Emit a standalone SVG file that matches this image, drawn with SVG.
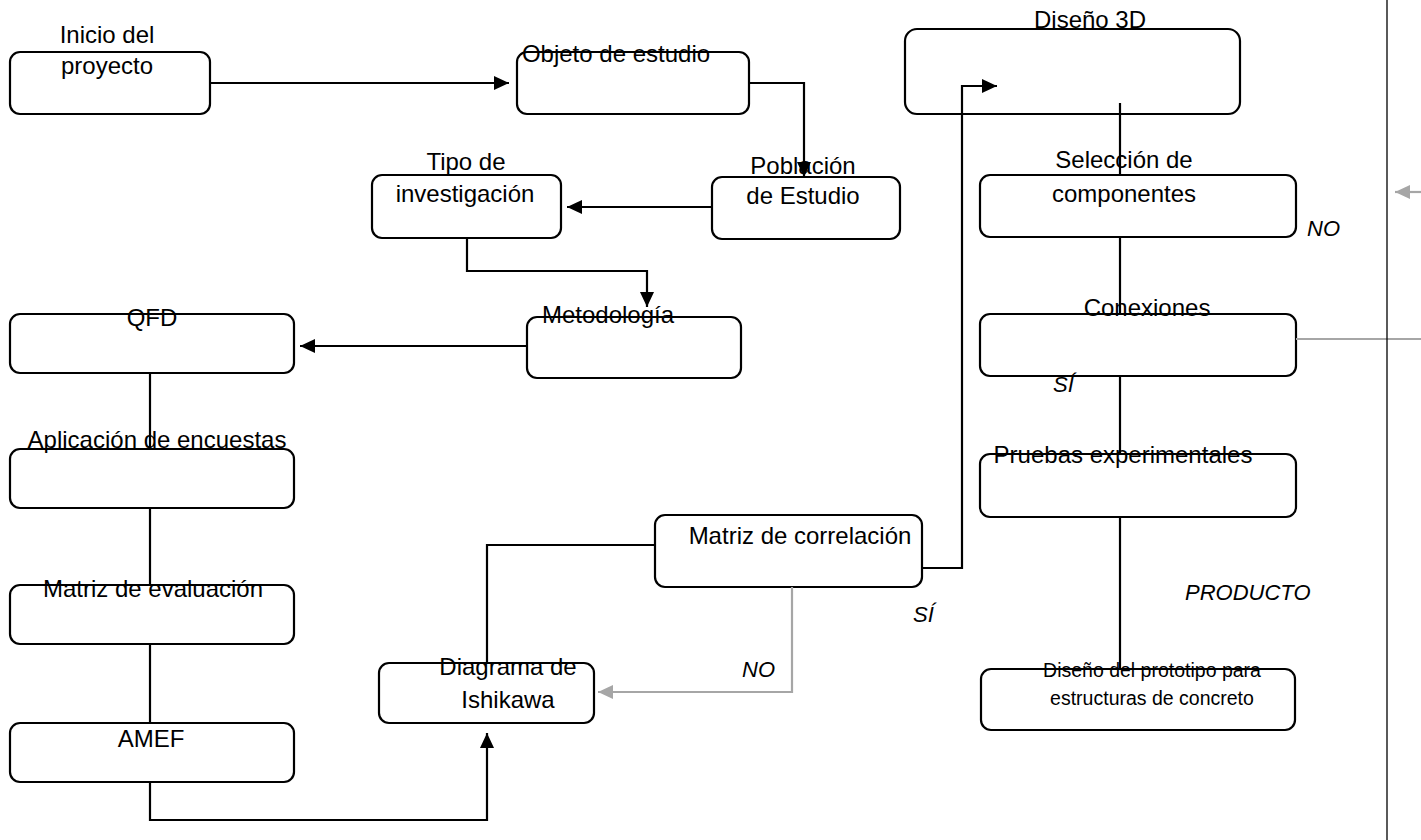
<svg xmlns="http://www.w3.org/2000/svg" width="1421" height="840" viewBox="0 0 1421 840">
<style>
.box{fill:#fff;stroke:#000;stroke-width:2.2}
.t{font-family:"Liberation Sans",Arial,sans-serif;font-size:24px;fill:#000;text-anchor:middle}
.ts{font-size:19.5px}
.lbl{font-family:"Liberation Sans",Arial,sans-serif;font-size:22px;font-style:italic;fill:#000}
.c{fill:none;stroke:#000;stroke-width:2.2}
.g{fill:none;stroke:#a6a6a6;stroke-width:2.2}
</style>
<defs>
<marker id="ab" markerUnits="userSpaceOnUse" markerWidth="16" markerHeight="14" refX="15" refY="7" orient="auto"><path d="M0,0 L15,7 L0,14 z" fill="#000"/></marker>
<marker id="ag" markerUnits="userSpaceOnUse" markerWidth="16" markerHeight="14" refX="15" refY="7" orient="auto"><path d="M0,0 L15,7 L0,14 z" fill="#a6a6a6"/></marker>
</defs>
<rect width="1421" height="840" fill="#fff"/>
<g id="inicio"><rect class="box" x="10" y="52" width="200" height="62" rx="10"/><text class="t" x="107" y="43">Inicio del</text><text class="t" x="107" y="74">proyecto</text></g>
<g id="objeto"><rect class="box" x="517" y="52" width="232" height="62" rx="10"/><text class="t" x="616" y="62">Objeto de estudio</text></g>
<g id="poblacion"><rect class="box" x="712" y="177" width="188" height="62" rx="10"/><text class="t" x="803" y="174">Población</text><text class="t" x="803" y="204">de Estudio</text></g>
<g id="tipo"><rect class="box" x="372" y="175" width="189" height="63" rx="10"/><text class="t" x="466" y="170">Tipo de</text><text class="t" x="465" y="202">investigación</text></g>
<g id="metodologia"><rect class="box" x="527" y="317" width="214" height="61" rx="10"/><text class="t" x="608" y="323">Metodología</text></g>
<g id="qfd"><rect class="box" x="10" y="314" width="284" height="59" rx="10"/><text class="t" x="152" y="326">QFD</text></g>
<g id="aplicacion"><rect class="box" x="10" y="449" width="284" height="59" rx="10"/><text class="t" x="157" y="448">Aplicación de encuestas</text></g>
<g id="evaluacion"><rect class="box" x="10" y="585" width="284" height="59" rx="10"/><text class="t" x="153" y="597">Matriz de evaluación</text></g>
<g id="amef"><rect class="box" x="10" y="723" width="284" height="59" rx="10"/><text class="t" x="151" y="747">AMEF</text></g>
<g id="ishikawa"><rect class="box" x="379" y="663" width="215" height="60" rx="10"/><text class="t" x="508" y="675">Diagrama de</text><text class="t" x="508" y="708">Ishikawa</text></g>
<g id="correlacion"><rect class="box" x="655" y="515" width="267" height="72" rx="10"/><text class="t" x="800" y="544">Matriz de correlación</text></g>
<g id="diseno3d"><rect class="box" x="905" y="29" width="335" height="85" rx="12"/><text class="t" x="1090" y="28">Diseño 3D</text></g>
<g id="seleccion"><rect class="box" x="980" y="175" width="316" height="62" rx="10"/><text class="t" x="1124" y="168">Selección de</text><text class="t" x="1124" y="202">componentes</text></g>
<g id="conexiones"><rect class="box" x="980" y="314" width="316" height="62" rx="10"/><text class="t" x="1147" y="316">Conexiones</text></g>
<g id="pruebas"><rect class="box" x="980" y="454" width="316" height="63" rx="10"/><text class="t" x="1123" y="463">Pruebas experimentales</text></g>
<g id="prototipo"><rect class="box" x="981" y="669" width="314" height="61" rx="10"/><text class="t ts" x="1152" y="677">Diseño del prototipo para</text><text class="t ts" x="1152" y="705">estructuras de concreto</text></g>
<g id="connectors">
<path class="c" d="M210,83 H509" marker-end="url(#ab)"/>
<path class="c" d="M749,83 H804 V177" marker-end="url(#ab)"/>
<path class="c" d="M712,207 H567" marker-end="url(#ab)"/>
<path class="c" d="M467,238 V271 H647 V307" marker-end="url(#ab)"/>
<path class="c" d="M527,346 H300" marker-end="url(#ab)"/>
<path class="c" d="M150,373 V449"/>
<path class="c" d="M150,508 V585"/>
<path class="c" d="M150,644 V723"/>
<path class="c" d="M150,782 V820 H487 V733" marker-end="url(#ab)"/>
<path class="c" d="M487,663 V545 H655"/>
<path class="c" d="M922,568 H962 V86 H997" marker-end="url(#ab)"/>
<path class="g" d="M792,587 V692 H598" marker-end="url(#ag)"/>
<path class="c" d="M1120,103 V175"/>
<path class="c" d="M1120,237 V314"/>
<path class="c" d="M1120,376 V454"/>
<path class="c" d="M1120,517 V668"/>
<path class="g" d="M1296,339 H1421"/>
<path class="g" d="M1421,192 H1395" marker-end="url(#ag)"/>
<path d="M1387,0 V840" stroke="#000" stroke-width="1.3" fill="none"/>
</g>
<g id="labels">
<text class="lbl" x="1307" y="236">NO</text>
<text class="lbl" x="1053" y="392">SÍ</text>
<text class="lbl" x="913" y="622">SÍ</text>
<text class="lbl" x="742" y="677">NO</text>
<text class="lbl" x="1185" y="600">PRODUCTO</text>
</g>
</svg>
